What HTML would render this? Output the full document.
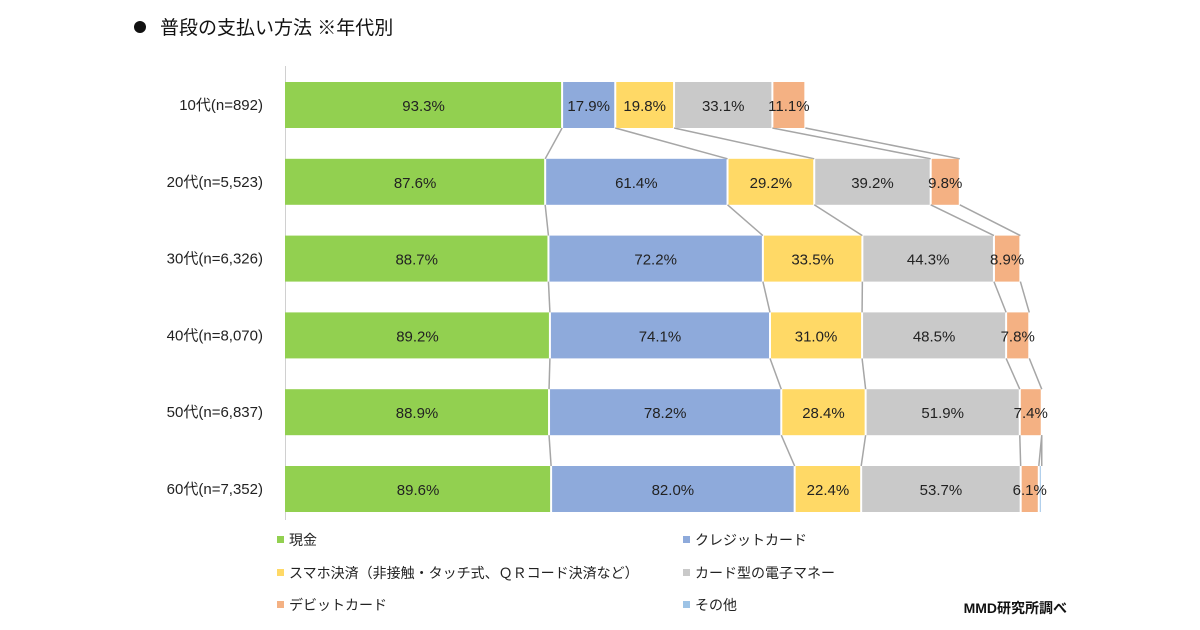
<!DOCTYPE html>
<html><head><meta charset="utf-8"><style>
body{margin:0;background:#fff;font-family:"Liberation Sans","Noto Sans CJK JP",sans-serif;}
#wrap{position:relative;width:1200px;height:630px;overflow:hidden;}
</style></head><body>
<div id="wrap">
<svg id="chart" width="1200" height="630" style="font-family:'Liberation Sans','Noto Sans CJK JP',sans-serif">
<g>
<circle cx="140" cy="27" r="6" fill="#111"></circle>
<text x="160" y="34" font-size="19" fill="#111">普段の支払い方法 ※年代別</text>
</g>
<line x1="285.5" y1="66" x2="285.5" y2="520" stroke="#d0d0d0"></line>
<g id="connectors"></g><g id="bars"></g><g id="labels"></g>
<g id="legend" font-size="14" fill="#222"></g>
<text x="1067" y="613" font-size="14" font-weight="bold" text-anchor="end" fill="#111">MMD研究所調べ</text>
</svg>
</div>
<script>
const categories=["10代(n=892)","20代(n=5,523)","30代(n=6,326)","40代(n=8,070)","50代(n=6,837)","60代(n=7,352)"];
const seriesNames=["現金","クレジットカード","スマホ決済（非接触・タッチ式、ＱＲコード決済など）","カード型の電子マネー","デビットカード","その他"];
const cash=[93.3,87.6,88.7,89.2,88.9,89.6];
const credit=[17.9,61.4,72.2,74.1,78.2,82.0];
const smartphone=[19.8,29.2,33.5,31.0,28.4,22.4];
const emoney=[33.1,39.2,44.3,48.5,51.9,53.7];
const debit=[11.1,9.8,8.9,7.8,7.4,6.1];
const other=[0,0,0,0,0,1.0];
const series=[cash,credit,smartphone,emoney,debit,other];
const colors=["#92d050","#8eaadb","#ffd966","#c9c9c9","#f4b183","#9dc3e6"];
const x0=285, k=2.97, barH=46;
const xs=v=>x0+v*k;
const ys=i=>82+i*76.8;
const NS="http://www.w3.org/2000/svg";
const bars=document.getElementById('bars'),labs=document.getElementById('labels'),con=document.getElementById('connectors');
const ends=[];
categories.forEach((c,i)=>{
  let acc=0;const e=[];
  const t=document.createElementNS(NS,'text');
  
  
  t.setAttribute('x',263);t.setAttribute('y',ys(i)+barH/2+5);t.setAttribute('text-anchor','end');t.setAttribute('font-size','15');t.setAttribute('fill','#222');
  t.textContent=c;labs.appendChild(t);
  series.forEach((s,j)=>{
    const v=s[i];const a=xs(acc),b=xs(acc+v);acc+=v;e.push(b);
    if(v<=0)return;
    const r=document.createElementNS(NS,'rect');
    
    
    r.setAttribute('x',a+(j?1:0));r.setAttribute('y',ys(i));r.setAttribute('width',Math.max(1,b-a-(j?1:0)-1));r.setAttribute('height',barH);r.setAttribute('fill',colors[j]);
    bars.appendChild(r);
    if(j<5){
      const l=document.createElementNS(NS,'text');
      
      
      l.setAttribute('x',(a+b)/2);l.setAttribute('y',ys(i)+barH/2+6);l.setAttribute('text-anchor','middle');l.setAttribute('font-size','15');l.setAttribute('fill','#222');
      l.textContent=v.toFixed(1)+'%';labs.appendChild(l);
    }
  });
  ends.push(e);
});
for(let i=0;i<categories.length-1;i++){
  for(let j=0;j<6;j++){
    if(series[j][i]<=0&&series[j][i+1]<=0)continue;
    const ln=document.createElementNS(NS,'line');
    
    
    ln.setAttribute('x1',ends[i][j]);ln.setAttribute('y1',ys(i)+barH);ln.setAttribute('x2',ends[i+1][j]);ln.setAttribute('y2',ys(i+1));
    ln.setAttribute('stroke','#a6a6a6');ln.setAttribute('stroke-width','1.5');
    con.appendChild(ln);
  }
}
const lg=document.getElementById('legend');
const lpos=[[277,540],[683,540],[277,573],[683,573],[277,605],[683,605]];
seriesNames.forEach((n,j)=>{
  const g=document.createElementNS(NS,'g');
  
  
  const r=document.createElementNS(NS,'rect');
  r.setAttribute('x',lpos[j][0]);r.setAttribute('y',lpos[j][1]-4);r.setAttribute('width',7);r.setAttribute('height',7);r.setAttribute('fill',colors[j]);
  const t=document.createElementNS(NS,'text');
  t.setAttribute('x',lpos[j][0]+12);t.setAttribute('y',lpos[j][1]+5);t.textContent=n;
  g.appendChild(r);g.appendChild(t);lg.appendChild(g);
});
</script>
</body></html>
